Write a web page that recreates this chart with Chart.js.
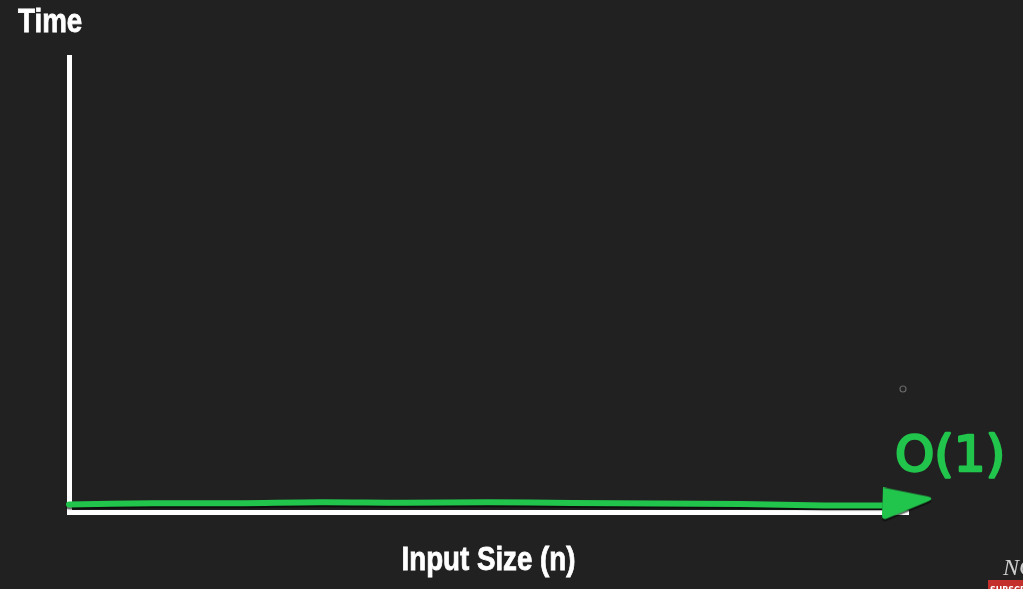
<!DOCTYPE html>
<html>
<head>
<meta charset="utf-8">
<script src="https://cdn.jsdelivr.net/npm/chart.js@4.4.1/dist/chart.umd.min.js"></script>
<style>
html, body { margin: 0; padding: 0; background: #212121; }
#wrap { width: 1023px; height: 589px; position: relative; }
</style>
</head>
<body>
<div id="wrap"><canvas id="complexity-chart"></canvas></div>
<script>
var inputSizes = [0, 1, 2, 3, 4, 5, 6, 7, 8, 9, 10];
var timeValues = [0.88, 1.02, 1.02, 1.13, 1.07, 1.13, 1.04, 0.99, 0.93, 0.77, 0.77];
var xAxisLabel = 'Input Size (n)';
var yAxisLabel = 'Time';
var curveLabel = 'O(1)';

var green = '#22c54c';
var labelFont = "'Liberation Sans', sans-serif";
var lastIndex = inputSizes.length - 1;

// hand-drawn looking arrow head, used as the style of the last point
var arrowHead = document.createElement('canvas');
arrowHead.width = 54;
arrowHead.height = 36;
var a = arrowHead.getContext('2d');
a.fillStyle = green;
a.beginPath();
a.moveTo(2, 0);
a.lineTo(47, 9);
a.quadraticCurveTo(54, 11, 47, 14);
a.lineTo(6, 31);
a.quadraticCurveTo(1, 33, 1, 28);
a.closePath();
a.fill();

var lineShadow = {
    id: 'lineShadow',
    beforeDatasetsDraw(chart) {
        var ctx = chart.ctx;
        ctx.save();
        ctx.shadowColor = 'rgba(0,0,0,0.6)';
        ctx.shadowBlur = 1;
        ctx.shadowOffsetY = 2;
    },
    afterDatasetsDraw(chart) {
        chart.ctx.restore();
    }
};

// condensed bold labels: no narrow font is installed, so squeeze Liberation Sans
function condensedText(ctx, text, x, y, align) {
    ctx.save();
    ctx.translate(x, y);
    ctx.scale(0.84, 1);
    ctx.textAlign = align;
    ctx.fillText(text, 0, 0);
    ctx.strokeText(text, 0, 0);
    ctx.restore();
}

var annotations = {
    id: 'annotations',
    afterDraw(chart) {
        var ctx = chart.ctx;
        var area = chart.chartArea;
        var endX = chart.scales.x.getPixelForValue(inputSizes[lastIndex]);
        var endY = chart.scales.y.getPixelForValue(timeValues[lastIndex]);
        ctx.save();
        ctx.textBaseline = 'alphabetic';
        ctx.fillStyle = '#fff';
        ctx.strokeStyle = '#fff';
        ctx.lineWidth = 0.8;
        ctx.font = 'bold 33px ' + labelFont;
        condensedText(ctx, yAxisLabel, 18, 32, 'left');
        condensedText(ctx, xAxisLabel, (area.left + area.right) / 2, 570, 'center');

        ctx.fillStyle = green;
        ctx.strokeStyle = green;
        ctx.lineWidth = 2.5;
        ctx.lineJoin = 'round';
        ctx.font = "50px 'DejaVu Sans'";
        ctx.fillText(curveLabel, endX - 13, endY - 34);
        ctx.strokeText(curveLabel, endX - 13, endY - 34);

        // cursor ring
        ctx.strokeStyle = '#666';
        ctx.lineWidth = 1.2;
        ctx.beginPath();
        ctx.arc(903, 389, 3, 0, Math.PI * 2);
        ctx.stroke();

        // channel watermark
        ctx.fillStyle = '#cfcfcf';
        ctx.font = "italic 24px 'Liberation Serif'";
        ctx.fillText('NC', 1003, 575);
        ctx.fillStyle = '#c4302b';
        ctx.fillRect(988, 580, 35, 9);
        ctx.fillStyle = '#fff';
        ctx.font = "bold 8px 'DejaVu Sans'";
        ctx.fillText('SUBSCRIBE', 990, 593);
        ctx.restore();
    }
};

var ctx = document.getElementById('complexity-chart').getContext('2d');

var complexityChart = new Chart(ctx, {
    type: 'line',
    data: {
        datasets: [{
            label: curveLabel,
            data: inputSizes.map((n, i) => ({ x: n, y: timeValues[i] })),
            borderColor: green,
            backgroundColor: green,
            borderWidth: 6,
            borderCapStyle: 'round',
            borderJoinStyle: 'round',
            tension: 0.35,
            clip: false,
            pointRadius: (c) => c.dataIndex === lastIndex ? 10 : 0,
            pointStyle: (c) => c.dataIndex === lastIndex ? arrowHead : 'circle',
            pointBorderWidth: 0
        }]
    },
    options: {
        responsive: true,
        maintainAspectRatio: false,
        animation: false,
        layout: {
            padding: { left: 69, top: 57, right: 115, bottom: 76.5 }
        },
        plugins: {
            legend: { display: false },
            tooltip: { enabled: false }
        },
        scales: {
            x: {
                type: 'linear',
                min: 0,
                max: 10,
                grid: { display: false, drawTicks: false },
                border: { color: '#fff', width: 5 },
                ticks: { display: false }
            },
            y: {
                min: 0,
                max: 50,
                grid: { display: false, drawTicks: false },
                border: { color: '#fff', width: 5 },
                ticks: { display: false }
            }
        }
    },
    plugins: [lineShadow, annotations]
});
</script>
</body>
</html>
